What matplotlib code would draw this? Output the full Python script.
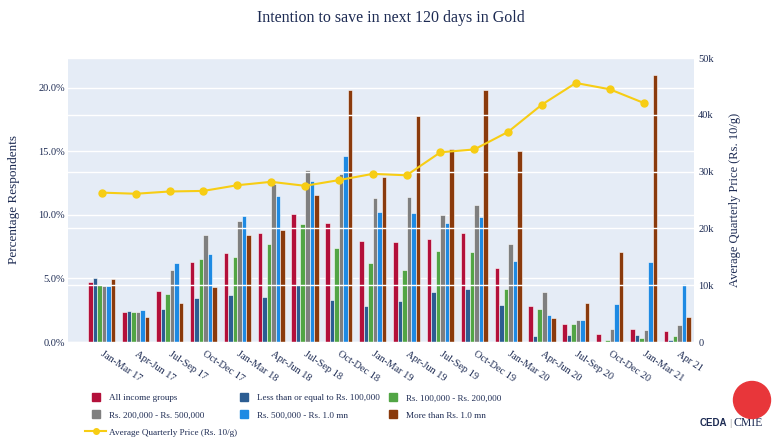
import numpy as np
import matplotlib
matplotlib.use("Agg")
import matplotlib.pyplot as plt
from matplotlib.lines import Line2D
from matplotlib.patches import Ellipse

plt.rcParams["font.family"] = ["Liberation Serif", "DejaVu Serif"]

quarters = ["Jan-Mar 17", "Apr-Jun 17", "Jul-Sep 17", "Oct-Dec 17",
            "Jan-Mar 18", "Apr-Jun 18", "Jul-Sep 18", "Oct-Dec 18",
            "Jan-Mar 19", "Apr-Jun 19", "Jul-Sep 19", "Oct-Dec 19",
            "Jan-Mar 20", "Apr-Jun 20", "Jul-Sep 20", "Oct-Dec 20",
            "Jan-Mar 21", "Apr 21"]

# percentage of respondents intending to save in gold
all_income = [4.7, 2.4, 4.0, 6.3, 7.0, 8.6, 10.1, 9.4, 7.95, 7.9, 8.1, 8.6, 5.8, 2.8, 1.45, 0.6, 1.0, 0.9]
upto_1l = [5.0, 2.45, 2.6, 3.5, 3.7, 3.55, 4.5, 3.3, 2.85, 3.2, 3.95, 4.2, 2.95, 0.45, 0.55, 0.0, 0.55, 0.15]
l1_to_2l = [4.5, 2.4, 3.75, 6.55, 6.65, 7.7, 9.3, 7.4, 6.2, 5.7, 7.15, 7.1, 4.15, 2.6, 1.4, 0.15, 0.3, 0.45]
l2_to_5l = [4.4, 2.35, 5.7, 8.4, 9.5, 12.4, 13.5, 13.2, 11.35, 11.45, 10.0, 10.8, 7.75, 3.9, 1.75, 1.05, 0.95, 1.3]
l5_to_1mn = [4.4, 2.55, 6.25, 6.9, 9.9, 11.5, 12.65, 14.6, 10.25, 10.15, 9.35, 9.85, 6.4, 2.1, 1.75, 3.0, 6.3, 4.6]
above_1mn = [4.95, 2.0, 3.1, 4.3, 8.45, 8.8, 11.55, 19.8, 13.0, 17.8, 15.2, 19.8, 15.0, 1.9, 3.1, 7.05, 21.05, 2.0]

# average quarterly gold price (Rs. per 10 g), no value for Apr 21
gold_price = [26300, 26100, 26500, 26600, 27600, 28200, 27500, 28500, 29600,
              29350, 33400, 33900, 37000, 41800, 45600, 44500, 42100]

series = [
    ("All income groups", all_income, "#b3103a"),
    ("Rs. 200,000 - Rs. 500,000", l2_to_5l, "#7f7f7f"),
    ("Less than or equal to Rs. 100,000", upto_1l, "#2c5d92"),
    ("Rs. 500,000 - Rs. 1.0 mn", l5_to_1mn, "#1e8ae3"),
    ("Rs. 100,000 - Rs. 200,000", l1_to_2l, "#52a545"),
    ("More than Rs. 1.0 mn", above_1mn, "#8a3a0c"),
]
bar_order = [0, 2, 4, 1, 3, 5]  # drawing order inside a group

navy = "#1d2b53"
gold = "#f7cd14"

fig = plt.figure(figsize=(7.72, 4.46), dpi=100)
ax = fig.add_axes([68 / 772, 104 / 446, 626 / 772, 284 / 446])
ax.set_facecolor("#e5ecf6")
ax2 = ax.twinx()

x = np.arange(len(quarters))
w = 0.8 / 6
for i, k in enumerate(bar_order):
    name, vals, col = series[k]
    ax.bar(x + (i - 2.5) * w, vals, w, color=col, edgecolor="white", linewidth=0.4, zorder=3)

ax2.plot(x[:len(gold_price)], gold_price, color=gold, lw=1.5, marker="o", ms=5, zorder=4)

ax.set_xlim(-1.0, 17.49)
ax.set_ylim(0, 22.35)
ax2.set_ylim(0, 50000)

ax.set_yticks([0, 5, 10, 15, 20])
ax.set_yticklabels(["0.0%", "5.0%", "10.0%", "15.0%", "20.0%"])
ax2.set_yticks([0, 10000, 20000, 30000, 40000, 50000])
ax2.set_yticklabels(["0", "10k", "20k", "30k", "40k", "50k"])
ax.set_xticks(x)
ax.set_xticklabels(quarters, rotation=-34, ha="left", va="center", rotation_mode="anchor")

ax.grid(axis="y", color="white", lw=1, zorder=0)
ax2.grid(axis="y", color="white", lw=1, zorder=0)
ax.set_axisbelow(True)
ax2.set_zorder(ax.get_zorder() + 1)
ax2.patch.set_visible(False)

for a in (ax, ax2):
    for s in a.spines.values():
        s.set_visible(False)
    a.tick_params(length=0, labelsize=7.5, labelcolor=navy)
ax.tick_params(axis="y", pad=2)
ax2.tick_params(axis="y", pad=3)
ax.tick_params(axis="x", pad=8)

ax.set_ylabel("Percentage Respondents", fontsize=9.5, color=navy)
ax.yaxis.set_label_coords(-0.076, 0.5)
ax2.set_ylabel("Average Quarterly Price (Rs. 10/g)", fontsize=9, color=navy)
ax2.yaxis.set_label_coords(1.056, 0.5)

fig.text(0.506, 1 - 18 / 446, "Intention to save in next 120 days in Gold",
         ha="center", va="center", fontsize=11.5, color=navy)

# legend, three columns placed separately
def sq(col):
    return Line2D([], [], marker="s", ms=6, ls="none", color=col)

line_handle = Line2D([], [], color=gold, lw=1.5, marker="o", ms=4)
cols = [
    ([sq(series[0][2]), sq(series[1][2]), line_handle],
     [series[0][0], series[1][0], "Average Quarterly Price (Rs. 10/g)"], 85),
    ([sq(series[2][2]), sq(series[3][2])], [series[2][0], series[3][0]], 233),
    ([sq(series[4][2]), sq(series[5][2])], [series[4][0], series[5][0]], 382),
]
for hs, labs, left in cols:
    leg = fig.legend(hs, labs, loc="upper left", bbox_to_anchor=(left / 772, 1 - 394 / 446),
                     frameon=False, fontsize=6.6, handlelength=2.3, handletextpad=0.35,
                     borderpad=0, borderaxespad=0, labelspacing=0.95, numpoints=1)
    for t in leg.get_texts():
        t.set_color(navy)

# CEDA | CMIE logo
fig.patches.append(Ellipse((752 / 772, 1 - 400 / 446), 37 / 772, 37 / 446,
                           transform=fig.transFigure, color="#e8363a", zorder=5))
fig.text(700 / 772, 1 - 423 / 446, "CEDA", fontsize=7, fontweight="bold",
         color=navy, family="Liberation Sans", va="center", ha="left")
fig.text(729 / 772, 1 - 423 / 446, "|", fontsize=8, color="#888888", va="center", ha="left")
fig.text(734 / 772, 1 - 423 / 446, "CMIE", fontsize=8.5, color=navy, va="center", ha="left")

fig.savefig("out.png", dpi=100)
